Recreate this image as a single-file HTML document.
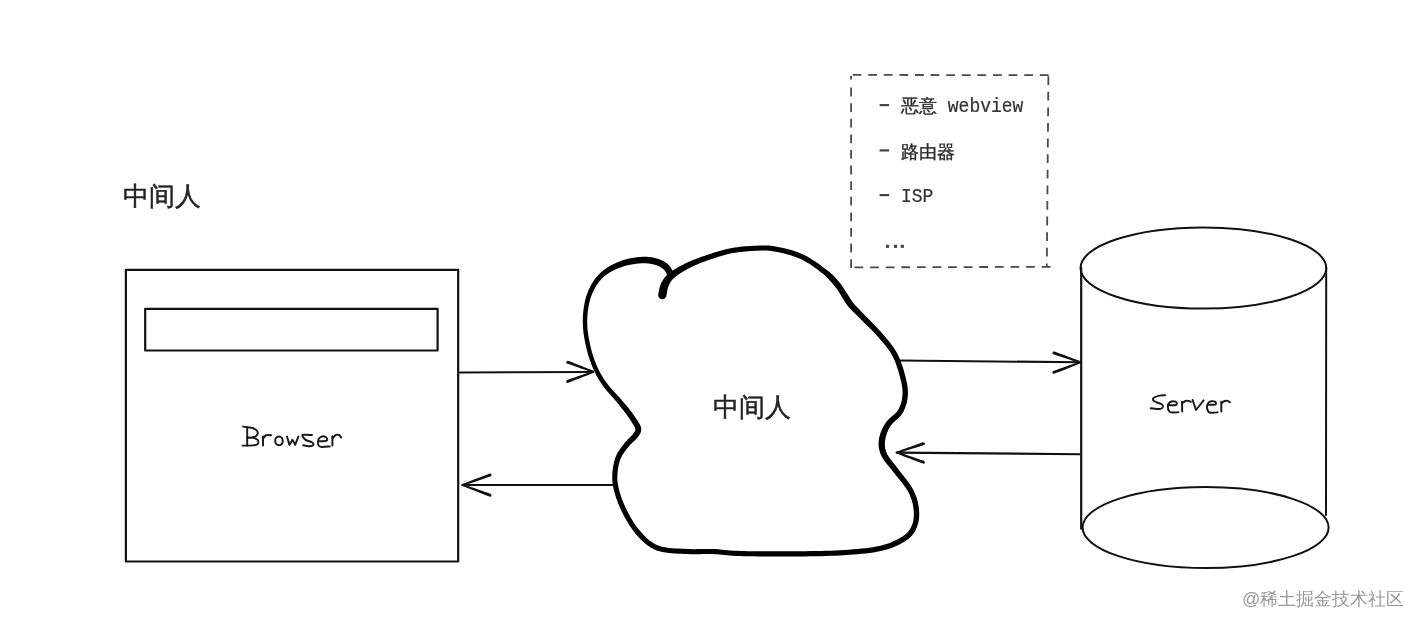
<!DOCTYPE html>
<html><head><meta charset="utf-8">
<style>
html,body{margin:0;padding:0;background:#fff;}
body{width:1422px;height:628px;position:relative;overflow:hidden;font-family:"Liberation Sans",sans-serif;}
svg{position:absolute;left:0;top:0;}
.t{position:absolute;white-space:pre;line-height:1;will-change:transform;}
.title{font-size:26.3px;color:#222;-webkit-text-stroke:0.45px #222;}
.mono{font-family:"Liberation Mono",monospace;font-size:18px;color:#333;}
.asc{display:inline-block;transform:scaleY(1.1);transform-origin:0 13.8px;-webkit-text-stroke:0.2px #333;}
.cjk{font-family:"Liberation Sans",sans-serif;color:#2a2a2a;-webkit-text-stroke:0.35px #2a2a2a;}
.wm{font-size:18px;color:#9a9a9a;}
</style></head><body>
<svg width="1422" height="628" viewBox="0 0 1422 628" fill="none" stroke="#111" stroke-linecap="round" stroke-linejoin="round">
  <!-- browser -->
  <rect x="125.9" y="269.8" width="332.3" height="291.7" stroke-width="2.2"/>
  <rect x="145.2" y="308.8" width="292.4" height="41.7" stroke-width="2.2"/>
  <!-- dashed box -->
  <g stroke="#4a4a4a" stroke-width="1.8" stroke-linecap="butt" stroke-dasharray="8.8 6.8">
    <path d="M852.6,74.9 L1049,75.2"/>
    <path d="M1048.4,76.2 L1046.8,267"/>
    <path d="M854.5,267.4 L1051,266.8"/>
    <path d="M851.1,87.6 L851.1,268"/>
    <path d="M851.1,76.1 L851.1,79.5" stroke-dasharray="none"/>
  </g>
  <!-- cloud -->
  <path fill="#000" stroke="none" d="M666.41,295.85 L666.52,295.22 L666.65,294.42 L666.79,293.53 L666.94,292.56 L667.11,291.54 L667.30,290.51 L667.51,289.50 L667.74,288.55 L667.97,287.71 L668.22,286.98 L668.49,286.24 L668.80,285.48 L669.12,284.74 L669.47,284.01 L669.84,283.30 L670.24,282.61 L670.67,281.93 L671.12,281.26 L671.61,280.60 L672.13,279.96 L672.69,279.33 L673.28,278.71 L673.92,278.10 L674.61,277.49 L675.34,276.88 L676.12,276.27 L676.95,275.65 L677.83,275.01 L678.75,274.37 L679.71,273.71 L680.70,273.05 L681.74,272.39 L682.80,271.73 L683.91,271.06 L685.05,270.40 L686.22,269.74 L687.43,269.08 L688.66,268.42 L689.93,267.77 L691.22,267.13 L692.53,266.51 L693.82,265.90 L695.10,265.31 L696.40,264.73 L697.74,264.16 L699.15,263.57 L700.64,262.98 L702.25,262.36 L703.98,261.73 L705.87,261.06 L707.96,260.34 L710.22,259.56 L712.61,258.74 L715.10,257.91 L717.67,257.07 L720.28,256.25 L722.90,255.47 L725.50,254.75 L728.05,254.10 L730.52,253.55 L732.98,253.08 L735.47,252.66 L738.00,252.29 L740.53,251.97 L743.07,251.70 L745.58,251.47 L748.05,251.27 L750.48,251.10 L752.84,250.96 L755.12,250.85 L757.29,250.75 L759.31,250.65 L761.21,250.58 L763.03,250.53 L764.81,250.53 L766.59,250.58 L768.41,250.69 L770.31,250.87 L772.34,251.14 L774.55,251.51 L776.97,251.97 L779.53,252.49 L782.21,253.08 L784.96,253.74 L787.76,254.47 L790.58,255.27 L793.38,256.16 L796.14,257.13 L798.81,258.20 L801.38,259.35 L803.93,260.66 L806.55,262.16 L809.22,263.83 L811.90,265.60 L814.53,267.44 L817.09,269.31 L819.53,271.15 L821.82,272.92 L823.93,274.59 L825.79,276.09 L827.38,277.46 L828.78,278.80 L830.04,280.11 L831.15,281.38 L832.15,282.59 L833.03,283.73 L833.82,284.79 L834.54,285.77 L835.20,286.65 L835.79,287.38 L840.21,283.62 L839.68,283.03 L839.07,282.28 L838.34,281.34 L837.47,280.25 L836.48,279.04 L835.34,277.72 L834.06,276.33 L832.61,274.87 L830.99,273.39 L829.21,271.91 L827.27,270.37 L825.11,268.69 L822.76,266.89 L820.24,265.02 L817.59,263.12 L814.86,261.23 L812.06,259.40 L809.23,257.66 L806.41,256.06 L803.62,254.65 L800.82,253.41 L797.94,252.28 L795.01,251.26 L792.06,250.33 L789.11,249.50 L786.20,248.75 L783.35,248.08 L780.59,247.48 L777.95,246.96 L775.45,246.49 L773.10,246.10 L770.89,245.81 L768.81,245.60 L766.81,245.48 L764.88,245.43 L762.97,245.44 L761.05,245.48 L759.09,245.56 L757.05,245.65 L754.88,245.75 L752.57,245.86 L750.16,245.99 L747.68,246.15 L745.14,246.34 L742.56,246.58 L739.95,246.85 L737.32,247.17 L734.69,247.54 L732.07,247.97 L729.48,248.45 L726.86,249.02 L724.18,249.68 L721.47,250.41 L718.76,251.20 L716.08,252.02 L713.46,252.85 L710.92,253.68 L708.50,254.48 L706.23,255.24 L704.13,255.94 L702.18,256.59 L700.38,257.21 L698.70,257.81 L697.12,258.40 L695.63,258.97 L694.21,259.54 L692.83,260.11 L691.48,260.68 L690.14,261.27 L688.78,261.87 L687.40,262.49 L686.04,263.12 L684.71,263.75 L683.41,264.39 L682.14,265.04 L680.90,265.69 L679.69,266.34 L678.52,266.99 L677.38,267.65 L676.29,268.29 L675.24,268.92 L674.21,269.54 L673.21,270.16 L672.24,270.79 L671.28,271.43 L670.35,272.09 L669.44,272.78 L668.56,273.50 L667.70,274.25 L666.87,275.04 L666.08,275.86 L665.34,276.70 L664.64,277.56 L663.99,278.43 L663.37,279.32 L662.79,280.23 L662.24,281.15 L661.73,282.08 L661.25,283.02 L660.78,284.02 L660.34,285.16 L659.96,286.36 L659.62,287.58 L659.32,288.79 L659.06,289.96 L658.84,291.07 L658.63,292.08 L658.46,292.95 L658.31,293.63 L658.19,294.15 Z M658.10,295.00 a4.20,4.20 0 1 0 8.40,0 a4.20,4.20 0 1 0 -8.40,0 Z M835.10,285.50 a2.90,2.90 0 1 0 5.80,0 a2.90,2.90 0 1 0 -5.80,0 Z"/>
  <path fill="#000" stroke="none" d="M825.52,275.84 L826.16,276.55 L827.00,277.47 L827.99,278.54 L829.09,279.73 L830.27,281.01 L831.48,282.33 L832.67,283.67 L833.81,284.97 L834.84,286.20 L835.73,287.31 L836.51,288.35 L837.24,289.39 L837.94,290.43 L838.60,291.47 L839.25,292.51 L839.88,293.56 L840.50,294.60 L841.13,295.64 L841.77,296.68 L842.40,297.69 L843.00,298.61 L843.52,299.45 L844.02,300.29 L844.52,301.13 L845.05,302.00 L845.61,302.90 L846.23,303.84 L846.93,304.83 L847.72,305.88 L848.62,306.99 L849.62,308.12 L850.68,309.27 L851.80,310.43 L852.96,311.61 L854.17,312.82 L855.44,314.07 L856.74,315.36 L858.09,316.69 L859.48,318.07 L860.93,319.53 L862.46,321.06 L864.10,322.67 L865.80,324.32 L867.55,326.03 L869.33,327.76 L871.12,329.53 L872.90,331.32 L874.64,333.13 L876.33,334.94 L877.96,336.77 L879.56,338.64 L881.18,340.52 L882.79,342.40 L884.37,344.29 L885.91,346.20 L887.40,348.14 L888.83,350.10 L890.18,352.10 L891.44,354.15 L892.61,356.25 L893.69,358.47 L894.74,360.85 L895.72,363.34 L896.65,365.91 L897.52,368.52 L898.33,371.11 L899.07,373.66 L899.74,376.12 L900.34,378.46 L900.87,380.62 L901.32,382.60 L901.70,384.45 L902.00,386.18 L902.24,387.81 L902.40,389.36 L902.51,390.86 L902.55,392.32 L902.53,393.77 L902.45,395.22 L902.32,396.70 L902.12,398.19 L901.88,399.66 L901.57,401.11 L901.20,402.54 L900.78,403.94 L900.29,405.32 L899.74,406.67 L899.13,408.00 L898.45,409.30 L897.73,410.54 L896.92,411.66 L895.95,412.74 L894.82,413.84 L893.56,414.96 L892.22,416.11 L890.83,417.30 L889.42,418.55 L888.05,419.88 L886.74,421.34 L885.59,422.89 L884.59,424.45 L883.68,426.03 L882.82,427.66 L882.02,429.32 L881.28,431.02 L880.62,432.73 L880.04,434.45 L879.54,436.17 L879.14,437.88 L878.83,439.56 L878.67,441.21 L878.59,442.84 L878.59,444.46 L878.68,446.07 L878.86,447.68 L879.14,449.29 L879.52,450.90 L880.00,452.50 L880.58,454.10 L881.27,455.73 L882.10,457.37 L883.06,458.97 L884.11,460.50 L885.24,462.00 L886.43,463.47 L887.66,464.95 L888.92,466.44 L890.19,467.96 L891.48,469.53 L892.77,471.20 L894.17,473.02 L895.71,474.95 L897.33,476.95 L898.99,478.99 L900.66,481.05 L902.29,483.11 L903.84,485.15 L905.28,487.13 L906.56,489.03 L907.65,490.84 L908.60,492.59 L909.45,494.31 L910.20,495.99 L910.86,497.64 L911.44,499.26 L911.94,500.88 L912.38,502.48 L912.75,504.10 L913.06,505.73 L913.33,507.38 L913.54,509.06 L913.70,510.77 L913.80,512.48 L913.84,514.19 L913.80,515.89 L913.69,517.55 L913.51,519.16 L913.24,520.72 L912.89,522.20 L912.45,523.63 L911.92,525.04 L911.35,526.41 L910.73,527.71 L910.05,528.95 L909.28,530.15 L908.41,531.31 L907.42,532.44 L906.29,533.56 L904.98,534.67 L903.46,535.78 L901.74,536.92 L899.86,538.06 L897.82,539.19 L895.64,540.30 L893.31,541.37 L890.83,542.40 L888.20,543.38 L885.42,544.30 L882.49,545.15 L879.41,545.92 L876.16,546.60 L872.71,547.20 L869.07,547.73 L865.26,548.21 L861.31,548.62 L857.22,549.00 L853.01,549.33 L848.71,549.64 L844.31,549.93 L839.85,550.20 L835.28,550.45 L830.54,550.65 L825.66,550.81 L820.66,550.94 L815.58,551.04 L810.45,551.12 L805.29,551.18 L800.14,551.23 L795.03,551.27 L789.98,551.30 L784.89,551.33 L779.64,551.35 L774.30,551.36 L768.93,551.34 L763.61,551.32 L758.41,551.28 L753.38,551.22 L748.61,551.15 L744.15,551.06 L740.08,550.95 L736.45,550.81 L733.18,550.63 L730.22,550.41 L727.49,550.18 L724.93,549.94 L722.49,549.69 L720.09,549.46 L717.68,549.26 L715.20,549.08 L712.60,548.95 L709.96,548.89 L707.41,548.88 L704.92,548.91 L702.49,548.97 L700.09,549.04 L697.69,549.11 L695.27,549.14 L692.81,549.14 L690.28,549.08 L687.63,548.95 L684.78,548.80 L681.76,548.68 L678.66,548.55 L675.52,548.41 L672.38,548.21 L669.29,547.93 L666.30,547.56 L663.46,547.06 L660.82,546.42 L658.41,545.62 L656.17,544.65 L654.04,543.53 L652.02,542.28 L650.08,540.90 L648.21,539.40 L646.40,537.78 L644.63,536.06 L642.89,534.24 L641.16,532.33 L639.45,530.36 L637.78,528.30 L636.13,526.09 L634.52,523.75 L632.94,521.30 L631.42,518.77 L629.95,516.20 L628.55,513.60 L627.22,511.00 L625.98,508.45 L624.83,505.95 L623.75,503.49 L622.73,501.02 L621.78,498.54 L620.89,496.06 L620.09,493.59 L619.38,491.15 L618.76,488.73 L618.24,486.35 L617.83,484.01 L617.54,481.74 L617.37,479.48 L617.32,477.21 L617.37,474.93 L617.53,472.66 L617.77,470.42 L618.10,468.22 L618.49,466.09 L618.94,464.04 L619.45,462.10 L619.97,460.30 L620.56,458.67 L621.25,457.14 L622.02,455.69 L622.86,454.29 L623.77,452.94 L624.73,451.64 L625.71,450.36 L626.70,449.11 L627.70,447.86 L628.63,446.66 L629.51,445.58 L630.41,444.59 L631.35,443.64 L632.32,442.71 L633.30,441.80 L634.27,440.90 L635.23,440.01 L636.15,439.10 L637.02,438.15 L637.78,437.20 L638.40,436.36 L638.94,435.59 L639.46,434.83 L639.94,434.04 L640.38,433.19 L640.75,432.28 L641.03,431.29 L641.19,430.25 L641.22,429.16 L641.11,428.02 L640.82,426.82 L640.39,425.65 L639.87,424.53 L639.27,423.45 L638.63,422.38 L637.96,421.34 L637.28,420.33 L636.61,419.34 L635.96,418.40 L635.35,417.48 L634.75,416.57 L634.14,415.66 L633.52,414.77 L632.89,413.88 L632.24,413.01 L631.58,412.12 L630.89,411.22 L630.17,410.30 L629.42,409.34 L628.63,408.34 L627.78,407.29 L626.89,406.21 L625.97,405.10 L625.01,403.96 L624.03,402.81 L623.03,401.64 L622.01,400.45 L620.98,399.26 L619.94,398.07 L618.89,396.87 L617.81,395.65 L616.68,394.42 L615.54,393.19 L614.38,391.96 L613.22,390.73 L612.08,389.51 L610.96,388.28 L609.88,387.05 L608.85,385.82 L607.87,384.58 L606.93,383.32 L606.01,382.04 L605.11,380.75 L604.23,379.46 L603.38,378.15 L602.56,376.83 L601.76,375.51 L600.98,374.17 L600.23,372.82 L599.50,371.47 L598.80,370.10 L598.14,368.72 L597.49,367.33 L596.88,365.92 L596.28,364.50 L595.70,363.08 L595.15,361.64 L594.61,360.20 L594.09,358.75 L593.58,357.30 L593.11,355.85 L592.65,354.39 L592.21,352.94 L591.79,351.47 L591.40,350.00 L591.02,348.52 L590.65,347.04 L590.30,345.55 L589.97,344.06 L589.65,342.55 L589.35,341.04 L589.05,339.52 L588.77,338.00 L588.50,336.47 L588.26,334.94 L588.03,333.42 L587.83,331.90 L587.65,330.38 L587.51,328.86 L587.40,327.36 L587.32,325.84 L587.26,324.32 L587.23,322.80 L587.22,321.28 L587.24,319.76 L587.29,318.24 L587.36,316.73 L587.46,315.23 L587.59,313.73 L587.74,312.24 L587.92,310.75 L588.13,309.25 L588.36,307.75 L588.62,306.26 L588.90,304.78 L589.21,303.32 L589.55,301.88 L589.92,300.46 L590.31,299.07 L590.74,297.72 L591.20,296.38 L591.69,295.06 L592.21,293.75 L592.76,292.46 L593.34,291.19 L593.94,289.95 L594.57,288.74 L595.21,287.56 L595.88,286.41 L596.57,285.31 L597.29,284.24 L598.02,283.20 L598.78,282.19 L599.56,281.21 L600.36,280.26 L601.19,279.34 L602.03,278.45 L602.90,277.59 L603.79,276.76 L604.71,275.96 L605.64,275.20 L606.60,274.48 L607.58,273.79 L608.58,273.13 L609.61,272.49 L610.67,271.88 L611.75,271.28 L612.88,270.70 L614.04,270.13 L615.23,269.57 L616.46,269.02 L617.73,268.49 L619.03,267.97 L620.36,267.46 L621.72,266.99 L623.09,266.53 L624.49,266.10 L625.89,265.71 L627.30,265.34 L628.71,265.02 L630.16,264.71 L631.66,264.42 L633.19,264.15 L634.75,263.92 L636.31,263.71 L637.86,263.54 L639.39,263.40 L640.88,263.31 L642.32,263.26 L643.70,263.25 L645.04,263.28 L646.37,263.35 L647.69,263.46 L648.99,263.61 L650.26,263.80 L651.50,264.02 L652.71,264.26 L653.86,264.54 L654.97,264.83 L656.01,265.15 L656.99,265.48 L657.91,265.83 L658.79,266.21 L659.61,266.61 L660.40,267.03 L661.14,267.47 L661.84,267.93 L662.50,268.42 L663.13,268.93 L663.68,269.41 L664.15,269.92 L664.63,270.53 L665.13,271.27 L665.63,272.08 L666.10,272.94 L666.56,273.80 L666.98,274.63 L667.37,275.41 L667.74,276.13 L668.05,276.69 L673.95,273.31 L673.70,272.89 L673.40,272.32 L673.01,271.56 L672.55,270.67 L672.02,269.69 L671.43,268.65 L670.77,267.60 L670.04,266.54 L669.22,265.51 L668.32,264.59 L667.43,263.80 L666.55,263.10 L665.62,262.44 L664.65,261.81 L663.64,261.22 L662.59,260.67 L661.50,260.16 L660.37,259.69 L659.20,259.25 L657.99,258.85 L656.74,258.49 L655.44,258.15 L654.10,257.84 L652.71,257.57 L651.28,257.33 L649.81,257.12 L648.32,256.96 L646.80,256.84 L645.25,256.77 L643.70,256.75 L642.12,256.79 L640.49,256.88 L638.84,257.02 L637.17,257.20 L635.48,257.41 L633.80,257.67 L632.13,257.95 L630.48,258.27 L628.86,258.61 L627.29,258.98 L625.74,259.40 L624.20,259.85 L622.68,260.33 L621.17,260.85 L619.69,261.39 L618.24,261.96 L616.82,262.55 L615.43,263.16 L614.08,263.79 L612.77,264.43 L611.50,265.08 L610.26,265.75 L609.05,266.44 L607.86,267.15 L606.71,267.88 L605.57,268.64 L604.47,269.44 L603.39,270.27 L602.33,271.13 L601.29,272.04 L600.28,272.97 L599.30,273.93 L598.34,274.92 L597.41,275.94 L596.51,276.99 L595.64,278.07 L594.80,279.18 L593.98,280.32 L593.19,281.49 L592.43,282.69 L591.69,283.93 L590.97,285.19 L590.28,286.49 L589.61,287.82 L588.98,289.18 L588.37,290.56 L587.79,291.97 L587.25,293.39 L586.74,294.83 L586.26,296.28 L585.82,297.76 L585.41,299.27 L585.04,300.80 L584.70,302.34 L584.39,303.90 L584.11,305.47 L583.85,307.05 L583.63,308.62 L583.43,310.19 L583.26,311.76 L583.11,313.33 L582.99,314.91 L582.90,316.49 L582.83,318.08 L582.79,319.68 L582.78,321.27 L582.80,322.87 L582.84,324.46 L582.91,326.05 L583.00,327.64 L583.13,329.24 L583.28,330.84 L583.46,332.44 L583.67,334.03 L583.91,335.62 L584.16,337.20 L584.44,338.78 L584.73,340.34 L585.03,341.90 L585.35,343.45 L585.67,344.99 L586.01,346.53 L586.37,348.06 L586.75,349.60 L587.14,351.12 L587.55,352.65 L587.99,354.17 L588.44,355.69 L588.92,357.20 L589.42,358.70 L589.93,360.20 L590.45,361.70 L591.00,363.20 L591.57,364.69 L592.16,366.18 L592.77,367.67 L593.41,369.15 L594.08,370.62 L594.78,372.08 L595.50,373.53 L596.25,374.97 L597.02,376.39 L597.82,377.80 L598.64,379.21 L599.49,380.60 L600.37,381.98 L601.27,383.36 L602.19,384.72 L603.14,386.07 L604.13,387.42 L605.16,388.77 L606.24,390.11 L607.36,391.43 L608.50,392.73 L609.65,394.02 L610.80,395.28 L611.93,396.52 L613.03,397.74 L614.09,398.94 L615.11,400.13 L616.10,401.33 L617.10,402.54 L618.10,403.75 L619.07,404.95 L620.03,406.13 L620.96,407.29 L621.87,408.43 L622.74,409.54 L623.58,410.62 L624.37,411.66 L625.14,412.66 L625.85,413.61 L626.53,414.52 L627.18,415.39 L627.80,416.24 L628.39,417.08 L628.96,417.92 L629.52,418.76 L630.08,419.62 L630.65,420.52 L631.25,421.48 L631.89,422.47 L632.53,423.46 L633.14,424.43 L633.72,425.37 L634.23,426.27 L634.66,427.10 L634.98,427.85 L635.19,428.48 L635.29,428.98 L635.34,429.42 L635.35,429.79 L635.31,430.12 L635.23,430.44 L635.09,430.81 L634.88,431.24 L634.58,431.76 L634.20,432.37 L633.72,433.06 L633.22,433.80 L632.69,434.50 L632.05,435.22 L631.30,436.01 L630.43,436.86 L629.49,437.76 L628.49,438.73 L627.45,439.77 L626.40,440.89 L625.35,442.09 L624.37,443.34 L623.45,444.56 L622.49,445.80 L621.48,447.10 L620.45,448.47 L619.41,449.93 L618.40,451.48 L617.43,453.12 L616.52,454.87 L615.71,456.74 L615.03,458.70 L614.44,460.73 L613.90,462.85 L613.42,465.08 L613.01,467.39 L612.66,469.77 L612.41,472.21 L612.25,474.70 L612.20,477.21 L612.26,479.74 L612.46,482.26 L612.79,484.78 L613.24,487.33 L613.80,489.90 L614.46,492.49 L615.22,495.10 L616.07,497.70 L616.99,500.31 L617.99,502.90 L619.05,505.49 L620.17,508.05 L621.37,510.63 L622.66,513.28 L624.03,515.97 L625.49,518.67 L627.02,521.35 L628.62,524.00 L630.27,526.57 L631.99,529.06 L633.75,531.43 L635.55,533.64 L637.34,535.71 L639.15,537.71 L641.01,539.65 L642.92,541.51 L644.92,543.29 L647.00,544.97 L649.20,546.53 L651.52,547.96 L653.97,549.25 L656.59,550.38 L659.42,551.32 L662.42,552.05 L665.54,552.60 L668.75,553.00 L671.99,553.29 L675.24,553.50 L678.44,553.65 L681.56,553.77 L684.54,553.90 L687.37,554.05 L690.10,554.18 L692.75,554.24 L695.31,554.24 L697.79,554.21 L700.23,554.14 L702.63,554.07 L705.02,554.01 L707.43,553.98 L709.89,553.98 L712.40,554.05 L714.90,554.17 L717.28,554.34 L719.63,554.54 L721.99,554.77 L724.44,555.01 L727.03,555.26 L729.82,555.50 L732.86,555.72 L736.21,555.90 L739.92,556.05 L744.03,556.17 L748.51,556.27 L753.31,556.35 L758.35,556.42 L763.57,556.47 L768.91,556.50 L774.29,556.53 L779.64,556.53 L784.91,556.52 L790.02,556.50 L795.06,556.47 L800.18,556.43 L805.34,556.38 L810.51,556.32 L815.67,556.24 L820.78,556.14 L825.81,556.01 L830.74,555.85 L835.53,555.64 L840.15,555.40 L844.64,555.13 L849.05,554.85 L853.40,554.55 L857.66,554.22 L861.82,553.85 L865.86,553.43 L869.77,552.96 L873.53,552.42 L877.15,551.79 L880.59,551.08 L883.86,550.28 L886.98,549.39 L889.95,548.42 L892.77,547.38 L895.44,546.28 L897.96,545.13 L900.33,543.94 L902.54,542.72 L904.61,541.48 L906.54,540.22 L908.32,538.91 L909.92,537.55 L911.35,536.15 L912.61,534.71 L913.72,533.23 L914.69,531.71 L915.54,530.17 L916.28,528.60 L916.94,527.02 L917.55,525.37 L918.10,523.62 L918.53,521.79 L918.85,519.93 L919.07,518.03 L919.20,516.11 L919.24,514.19 L919.20,512.27 L919.08,510.36 L918.91,508.47 L918.67,506.62 L918.38,504.79 L918.03,502.98 L917.62,501.17 L917.13,499.36 L916.56,497.55 L915.91,495.72 L915.17,493.88 L914.33,492.01 L913.40,490.11 L912.35,488.16 L911.13,486.13 L909.75,484.03 L908.23,481.90 L906.63,479.77 L904.97,477.64 L903.29,475.53 L901.65,473.47 L900.06,471.49 L898.58,469.60 L897.23,467.80 L895.92,466.06 L894.61,464.38 L893.33,462.80 L892.10,461.29 L890.95,459.84 L889.88,458.45 L888.92,457.11 L888.06,455.81 L887.34,454.54 L886.73,453.27 L886.22,451.96 L885.79,450.67 L885.45,449.39 L885.19,448.13 L885.01,446.88 L884.90,445.62 L884.87,444.36 L884.90,443.07 L885.00,441.76 L885.17,440.44 L885.36,439.07 L885.64,437.67 L886.01,436.21 L886.45,434.73 L886.97,433.23 L887.55,431.74 L888.20,430.26 L888.90,428.82 L889.65,427.41 L890.41,426.11 L891.23,424.94 L892.21,423.81 L893.33,422.67 L894.58,421.51 L895.90,420.33 L897.27,419.11 L898.63,417.83 L899.96,416.48 L901.20,415.02 L902.27,413.46 L903.18,411.92 L903.98,410.38 L904.70,408.82 L905.34,407.23 L905.91,405.62 L906.40,403.99 L906.83,402.34 L907.18,400.67 L907.47,398.99 L907.68,397.30 L907.84,395.61 L907.93,393.95 L907.95,392.28 L907.90,390.60 L907.78,388.89 L907.59,387.13 L907.34,385.32 L907.00,383.44 L906.60,381.46 L906.13,379.38 L905.58,377.14 L904.96,374.74 L904.27,372.20 L903.50,369.56 L902.66,366.86 L901.75,364.14 L900.77,361.43 L899.72,358.77 L898.59,356.20 L897.39,353.75 L896.10,351.42 L894.72,349.18 L893.25,347.01 L891.73,344.90 L890.15,342.86 L888.54,340.87 L886.92,338.92 L885.28,337.00 L883.66,335.12 L882.04,333.23 L880.38,331.31 L878.65,329.39 L876.88,327.49 L875.08,325.63 L873.29,323.80 L871.52,322.01 L869.79,320.28 L868.13,318.61 L866.55,317.01 L865.07,315.47 L863.66,313.99 L862.28,312.56 L860.94,311.19 L859.67,309.87 L858.45,308.61 L857.30,307.41 L856.21,306.24 L855.19,305.13 L854.24,304.05 L853.38,303.01 L852.60,302.05 L851.93,301.17 L851.35,300.34 L850.82,299.54 L850.33,298.75 L849.84,297.95 L849.35,297.11 L848.81,296.23 L848.23,295.28 L847.60,294.31 L846.95,293.35 L846.31,292.38 L845.66,291.39 L845.00,290.36 L844.31,289.30 L843.60,288.22 L842.84,287.11 L842.04,285.99 L841.18,284.85 L840.27,283.69 L839.24,282.48 L838.10,281.19 L836.88,279.86 L835.62,278.51 L834.36,277.18 L833.13,275.91 L831.99,274.74 L830.97,273.69 L830.12,272.83 L829.48,272.16 Z M824.80,274.00 a2.70,2.70 0 1 0 5.40,0 a2.70,2.70 0 1 0 -5.40,0 Z M667.60,275.00 a3.40,3.40 0 1 0 6.80,0 a3.40,3.40 0 1 0 -6.80,0 Z"/>


  <!-- cylinder -->
  <ellipse cx="1203.4" cy="268" rx="122.9" ry="40.6" stroke-width="2"/>
  <ellipse cx="1205.6" cy="527.5" rx="123" ry="40.5" stroke-width="2"/>
  <line x1="1081.2" y1="268" x2="1081.2" y2="528.7" stroke-width="2.2"/>
  <line x1="1326.2" y1="268" x2="1326" y2="515" stroke-width="2"/>
  <!-- arrows -->
  <g stroke-width="2.1">
    <path d="M460,372.5 L593,372"/>
    <path d="M612.5,485 L462.5,485"/>
    <path d="M898.9,360.5 L1080.6,362.3"/>
    <path d="M1079.5,454.2 L896.7,452.6"/>
  </g>
  <path fill="#111" stroke="none" d="M567.18,363.61 L568.60,364.09 L570.55,364.76 L572.87,365.58 L575.36,366.46 L577.86,367.34 L580.17,368.15 L582.49,368.96 L584.98,369.84 L587.48,370.72 L589.79,371.53 L591.75,372.21 L593.17,372.69 L593.83,370.91 L592.44,370.34 L590.52,369.58 L588.24,368.68 L585.77,367.72 L583.31,366.75 L581.03,365.85 L578.74,364.95 L576.28,363.99 L573.82,363.02 L571.54,362.12 L569.61,361.36 L568.22,360.79 Z M566.20,362.20 a1.50,1.50 0 1 0 3.00,0 a1.50,1.50 0 1 0 -3.00,0 Z M592.55,371.80 a0.95,0.95 0 1 0 1.90,0 a0.95,0.95 0 1 0 -1.90,0 Z M568.22,382.81 L569.61,382.24 L571.54,381.48 L573.82,380.58 L576.28,379.61 L578.74,378.65 L581.03,377.75 L583.31,376.85 L585.77,375.88 L588.24,374.92 L590.52,374.02 L592.44,373.26 L593.83,372.69 L593.17,370.91 L591.75,371.39 L589.79,372.07 L587.48,372.88 L584.98,373.76 L582.49,374.64 L580.17,375.45 L577.86,376.26 L575.36,377.14 L572.87,378.02 L570.55,378.84 L568.60,379.51 L567.18,379.99 Z M566.20,381.40 a1.50,1.50 0 1 0 3.00,0 a1.50,1.50 0 1 0 -3.00,0 Z M592.55,371.80 a0.95,0.95 0 1 0 1.90,0 a0.95,0.95 0 1 0 -1.90,0 Z M489.49,473.59 L488.01,474.18 L485.95,474.97 L483.52,475.91 L480.89,476.91 L478.27,477.91 L475.83,478.85 L473.40,479.78 L470.77,480.79 L468.14,481.79 L465.71,482.72 L463.66,483.52 L462.18,484.11 L462.82,485.89 L464.34,485.39 L466.42,484.68 L468.89,483.83 L471.54,482.92 L474.20,482.00 L476.67,481.15 L479.14,480.30 L481.79,479.39 L484.45,478.47 L486.92,477.62 L489.00,476.91 L490.51,476.41 Z M488.50,475.00 a1.50,1.50 0 1 0 3.00,0 a1.50,1.50 0 1 0 -3.00,0 Z M461.55,485.00 a0.95,0.95 0 1 0 1.90,0 a0.95,0.95 0 1 0 -1.90,0 Z M490.52,493.79 L489.01,493.28 L486.92,492.56 L484.46,491.69 L481.80,490.75 L479.14,489.82 L476.68,488.95 L474.21,488.09 L471.55,487.15 L468.89,486.21 L466.43,485.35 L464.34,484.62 L462.83,484.11 L462.17,485.89 L463.65,486.49 L465.70,487.30 L468.14,488.25 L470.76,489.27 L473.39,490.30 L475.82,491.25 L478.26,492.20 L480.88,493.22 L483.51,494.25 L485.95,495.20 L488.00,496.01 L489.48,496.61 Z M488.50,495.20 a1.50,1.50 0 1 0 3.00,0 a1.50,1.50 0 1 0 -3.00,0 Z M461.55,485.00 a0.95,0.95 0 1 0 1.90,0 a0.95,0.95 0 1 0 -1.90,0 Z M1053.40,354.31 L1054.87,354.78 L1056.89,355.45 L1059.29,356.24 L1061.87,357.10 L1064.45,357.96 L1066.84,358.76 L1069.24,359.55 L1071.82,360.41 L1074.40,361.27 L1076.79,362.06 L1078.82,362.73 L1080.28,363.20 L1080.92,361.40 L1079.48,360.85 L1077.48,360.10 L1075.12,359.22 L1072.57,358.27 L1070.02,357.33 L1067.66,356.44 L1065.29,355.56 L1062.74,354.62 L1060.19,353.67 L1057.83,352.79 L1055.84,352.04 L1054.40,351.49 Z M1052.40,352.90 a1.50,1.50 0 1 0 3.00,0 a1.50,1.50 0 1 0 -3.00,0 Z M1079.65,362.30 a0.95,0.95 0 1 0 1.90,0 a0.95,0.95 0 1 0 -1.90,0 Z M1054.43,373.70 L1055.86,373.12 L1057.86,372.32 L1060.22,371.39 L1062.77,370.38 L1065.32,369.38 L1067.68,368.45 L1070.04,367.51 L1072.59,366.51 L1075.14,365.51 L1077.50,364.57 L1079.50,363.78 L1080.93,363.19 L1080.27,361.41 L1078.80,361.91 L1076.77,362.62 L1074.38,363.47 L1071.80,364.39 L1069.22,365.30 L1066.82,366.15 L1064.42,367.00 L1061.84,367.92 L1059.26,368.84 L1056.87,369.68 L1054.84,370.39 L1053.37,370.90 Z M1052.40,372.30 a1.50,1.50 0 1 0 3.00,0 a1.50,1.50 0 1 0 -3.00,0 Z M1079.65,362.30 a0.95,0.95 0 1 0 1.90,0 a0.95,0.95 0 1 0 -1.90,0 Z M922.93,442.28 L921.49,442.80 L919.49,443.52 L917.13,444.35 L914.58,445.25 L912.03,446.15 L909.66,446.99 L907.30,447.82 L904.75,448.72 L902.20,449.62 L899.83,450.46 L897.84,451.17 L896.40,451.70 L897.00,453.50 L898.47,453.06 L900.49,452.43 L902.88,451.68 L905.46,450.87 L908.04,450.06 L910.44,449.31 L912.83,448.56 L915.41,447.75 L917.99,446.94 L920.38,446.19 L922.41,445.56 L923.87,445.12 Z M921.90,443.70 a1.50,1.50 0 1 0 3.00,0 a1.50,1.50 0 1 0 -3.00,0 Z M895.75,452.60 a0.95,0.95 0 1 0 1.90,0 a0.95,0.95 0 1 0 -1.90,0 Z M923.91,460.79 L922.44,460.31 L920.42,459.63 L918.02,458.82 L915.44,457.94 L912.86,457.06 L910.46,456.25 L908.07,455.43 L905.49,454.56 L902.91,453.68 L900.51,452.86 L898.49,452.19 L897.02,451.71 L896.38,453.49 L897.82,454.06 L899.81,454.82 L902.17,455.72 L904.72,456.69 L907.27,457.65 L909.64,458.55 L912.00,459.45 L914.55,460.42 L917.10,461.38 L919.46,462.28 L921.46,463.05 L922.89,463.61 Z M921.90,462.20 a1.50,1.50 0 1 0 3.00,0 a1.50,1.50 0 1 0 -3.00,0 Z M895.75,452.60 a0.95,0.95 0 1 0 1.90,0 a0.95,0.95 0 1 0 -1.90,0 Z"/>
  <!-- handwriting -->
  <g stroke="#1a1a1a" stroke-width="1.95">
<path d="M243.1,426.6 L252.8,428.0"/>
<path d="M252.8,428.0 C253.6,428.5 256.6,430.0 257.3,431.2 C258.0,432.4 257.6,434.3 256.8,435.3 C256.0,436.3 254.1,437.0 252.5,437.4 C250.9,437.8 248.1,437.6 247.2,437.6"/>
<path d="M247.5,437.6 L253.5,437.6"/>
<path d="M253.5,437.6 C254.2,438.0 257.1,438.9 257.8,440.0 C258.5,441.1 258.4,443.3 257.6,444.2 C256.8,445.1 255.5,445.2 253.0,445.4 C250.5,445.6 244.2,445.6 242.5,445.6"/>
<path d="M247.2,427.2 L247.2,445.4"/>
<path d="M263.0,436.5 L263.0,445.5"/>
<path d="M263.0,438.6 C263.5,438.1 264.9,436.0 265.8,435.4 C266.7,434.8 267.6,434.9 268.5,434.9 C269.4,434.9 270.6,435.1 271.0,435.2"/>
<path d="M279,436.4 C283.8,436.4 284.3,445.2 279,445.2 C274.0,445.2 273.8,436.4 279,436.4"/>
<path d="M287.0,436.6 C287.4,437.9 289.0,443.3 289.4,444.6"/>
<path d="M289.6,444.6 C290.1,443.8 291.9,440.8 292.4,440.0"/>
<path d="M292.4,440.0 C292.9,440.8 294.7,443.8 295.2,444.6"/>
<path d="M295.2,444.6 C295.7,443.3 297.9,437.9 298.4,436.6"/>
<path d="M312.0,435.0 C311.0,435.0 307.6,434.8 306.0,434.8 C304.4,434.8 302.3,434.4 302.2,435.2 C302.1,436.0 304.0,438.7 305.6,439.9 C307.2,441.1 310.5,441.4 311.8,442.3 C313.1,443.2 313.9,444.3 313.4,445.0 C312.9,445.7 310.7,446.2 309.0,446.3 C307.3,446.4 304.2,445.5 303.2,445.3"/>
<path d="M318.6,441.4 C320.0,441.3 325.6,441.3 326.8,440.6 C328.0,439.9 326.6,437.6 325.6,437.0 C324.6,436.4 322.2,436.3 321.0,436.8 C319.8,437.3 318.6,438.6 318.2,440.0 C317.8,441.4 317.9,444.1 318.4,445.2 C318.9,446.3 319.1,446.7 321.0,446.9 C322.9,447.1 328.3,446.6 329.8,446.5"/>
<path d="M332.4,436.3 L332.4,445.5"/>
<path d="M332.6,438.2 C333.1,437.7 334.7,435.5 335.8,435.0 C336.9,434.5 338.1,434.6 339.0,435.0 C339.9,435.4 340.8,437.1 341.2,437.5"/>
<path d="M1165.1,395.2 C1164.2,395.3 1161.3,395.2 1159.5,395.6 C1157.7,396.0 1155.3,396.8 1154.2,397.5 C1153.1,398.2 1152.7,399.0 1153.0,399.8 C1153.3,400.6 1154.8,401.4 1156.2,402.2 C1157.7,402.9 1160.6,403.5 1161.7,404.3 C1162.8,405.1 1163.2,406.2 1162.9,407.0 C1162.6,407.8 1162.0,408.8 1160.0,409.0 C1158.0,409.2 1152.2,408.3 1150.7,408.2"/>
<path d="M1168.9,405.2 C1170.1,405.2 1174.8,405.5 1176.0,405.0 C1177.2,404.5 1176.8,402.9 1176.4,402.3 C1176.0,401.7 1174.6,401.2 1173.5,401.2 C1172.4,401.2 1170.8,401.4 1169.8,402.3 C1168.8,403.2 1167.8,404.9 1167.8,406.5 C1167.8,408.1 1168.6,410.6 1169.5,411.6 C1170.4,412.6 1171.5,412.4 1173.0,412.5 C1174.5,412.6 1177.5,412.3 1178.4,412.3"/>
<path d="M1182.0,401.8 L1182.2,411.4"/>
<path d="M1182.5,403.0 C1183.0,402.7 1184.4,401.4 1185.4,401.0 C1186.4,400.6 1187.6,400.8 1188.5,400.9 C1189.4,401.0 1190.4,401.6 1190.8,401.8"/>
<path d="M1192.6,399.9 L1196.0,410.0 L1203.6,400.4"/>
<path d="M1207.9,404.7 C1209.2,404.7 1214.2,405.1 1215.4,404.6 C1216.6,404.1 1215.8,402.4 1215.1,401.8 C1214.4,401.2 1212.5,401.1 1211.5,401.2 C1210.5,401.3 1209.6,401.5 1208.8,402.4 C1208.0,403.3 1206.9,405.2 1206.9,406.8 C1206.9,408.4 1207.7,411.0 1208.6,412.0 C1209.5,413.0 1211.0,412.6 1212.5,412.7 C1214.0,412.8 1216.7,412.4 1217.5,412.3"/>
<path d="M1221.3,401.8 L1221.3,411.4"/>
<path d="M1221.6,403.0 C1222.1,402.7 1223.6,401.4 1224.6,401.0 C1225.6,400.6 1226.9,400.7 1227.8,400.9 C1228.7,401.1 1229.6,402.1 1230.0,402.3"/>
  </g>
  <!-- list bullets and dots -->
  <g fill="#444" stroke="none">
    <rect x="879.6" y="104" width="9.5" height="2.2"/>
    <rect x="879.6" y="149.3" width="9.5" height="2.2"/>
    <rect x="879.6" y="194" width="9.5" height="2.2"/>
    <rect x="886" y="244.8" width="3.1" height="3.1"/>
    <rect x="893.9" y="244.8" width="3.1" height="3.1"/>
    <rect x="900.8" y="244.8" width="3.1" height="3.1"/>
  </g>
</svg>
<div class="t title" style="left:123px;top:183px">中间人</div>
<div class="t title" style="left:713px;top:394px">中间人</div>
<div class="t mono" style="left:900.5px;top:97px"><span class="cjk">恶意</span> <span class="asc">webview</span></div>
<div class="t mono" style="left:900.5px;top:142.5px"><span class="cjk">路由器</span></div>
<div class="t mono" style="left:900.5px;top:187.5px"><span class="asc">ISP</span></div>
<div class="t wm" style="left:1242px;top:590px">@稀土掘金技术社区</div>
</body></html>
